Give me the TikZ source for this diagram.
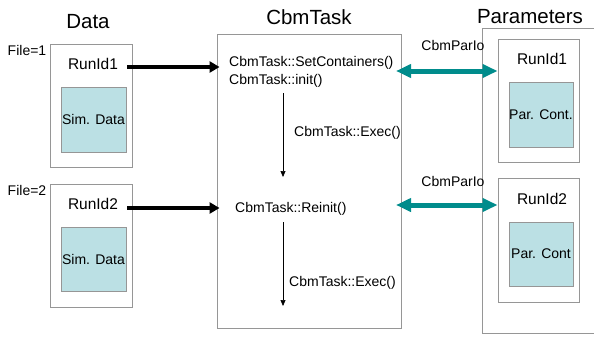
\documentclass[tikz,border=0pt]{standalone}
\usepackage{fontspec}
\setmainfont{Liberation Sans}
\usepackage{xcolor}
\usetikzlibrary{arrows.meta,positioning,calc}
\definecolor{simblue}{RGB}{187,224,228}
\definecolor{pioteal}{RGB}{0,140,140}
\definecolor{boxgray}{RGB}{150,150,150}
\tikzset{
  title/.style={font=\fontsize{20.5}{24}\selectfont,inner sep=0pt},
  txt/.style={font=\fontsize{14}{16}\selectfont,inner sep=0pt},
  runid/.style={font=\fontsize{15.5}{18}\selectfont,inner sep=0pt},
  frame/.style={draw=boxgray,line width=0.9pt},
  cont/.style={draw=boxgray,fill=simblue,line width=0.9pt,inner sep=0pt,font=\fontsize{14}{16}\selectfont},
  thickarr/.style={-{Triangle[length=10pt,width=11pt]},line width=4pt},
  execarr/.style={-{Triangle[length=6pt,width=5pt]},line width=0.7pt},
  pario/.style={{Triangle[length=15pt,width=13pt]}-{Triangle[length=15pt,width=13pt]},line width=5pt,draw=pioteal}
}
\begin{document}
\begin{tikzpicture}[x=1pt,y=-1pt]
  \useasboundingbox (0,0) rectangle (594,340);
  % titles
  \node[title] (tdata) at (88,22) {Data};
  \node[title] (ttask) at (309,17) {CbmTask};
  \node[title] (tpar) at (530,17) {Parameters};

  % data side
  \draw[frame] (50,44) rectangle (132,167);
  \draw[frame] (50,184) rectangle (132,307);
  \node[txt] (file1) at (27,50) {File=1};
  \node[txt] (file2) at (27,190) {File=2};
  \node[runid] (rd1) at (93,64) {RunId1};
  \node[runid] (rd2) at (93,204) {RunId2};
  \node[cont,minimum width=65pt,minimum height=65pt] (sim1) at (93.5,119.5) {Sim. Data};
  \node[cont,minimum width=65pt,minimum height=64pt] (sim2) at (93.5,259) {Sim. Data};

  % the task
  \node[frame,minimum width=184pt,minimum height=294pt,inner sep=0pt] (task) at (309,181) {};
  \node[txt,anchor=west] (setc) at (229,63) {CbmTask::SetContainers()};
  \node[txt,anchor=west] (init) at (229,81) {CbmTask::init()};
  \node[txt,anchor=west] (exec1) at (294,133) {CbmTask::Exec()};
  \node[txt,anchor=west] (reinit) at (235,209) {CbmTask::Reinit()};
  \node[txt,anchor=west] (exec2) at (289,283) {CbmTask::Exec()};
  \coordinate (e1a) at (283,93);
  \coordinate (e1b) at (283,177);
  \coordinate (e2a) at (283,222);
  \coordinate (e2b) at (283,306);
  \draw[execarr] (e1a) -- (e1b);
  \draw[execarr] (e2a) -- (e2b);

  \coordinate (in1) at (127,67);
  \coordinate (in2) at (127,208);
  \draw[thickarr] (in1) -- ($(in1 -| task.west)+(3,0)$);
  \draw[thickarr] (in2) -- ($(in2 -| task.west)+(3,0)$);

  % parameters
  \draw[frame] (482,28) rectangle (600,333);
  \node[frame,minimum width=81pt,minimum height=123pt,inner sep=0pt] (pbox1) at (538.5,100.5) {};
  \node[frame,minimum width=81pt,minimum height=124pt,inner sep=0pt] (pbox2) at (538.5,240) {};
  \node[runid] (prd1) at (542,59) {RunId1};
  \node[runid] (prd2) at (542,199) {RunId2};
  \node[cont,minimum width=64pt,minimum height=65pt] (pc1) at (541,114.5) {Par. Cont.};
  \node[cont,minimum width=64pt,minimum height=64pt] (pc2) at (541,254) {Par. Cont};

  \coordinate (pio1) at (396,71);
  \coordinate (pio2) at (396,205);
  \draw[pario] (pio1) -- (pio1 -| pbox1.west);
  \draw[pario] (pio2) -- (pio2 -| pbox2.west);
  \node[txt] (lio1) at (453,45) {CbmParIo};
  \node[txt] (lio2) at (453,181) {CbmParIo};
\end{tikzpicture}
\end{document}
